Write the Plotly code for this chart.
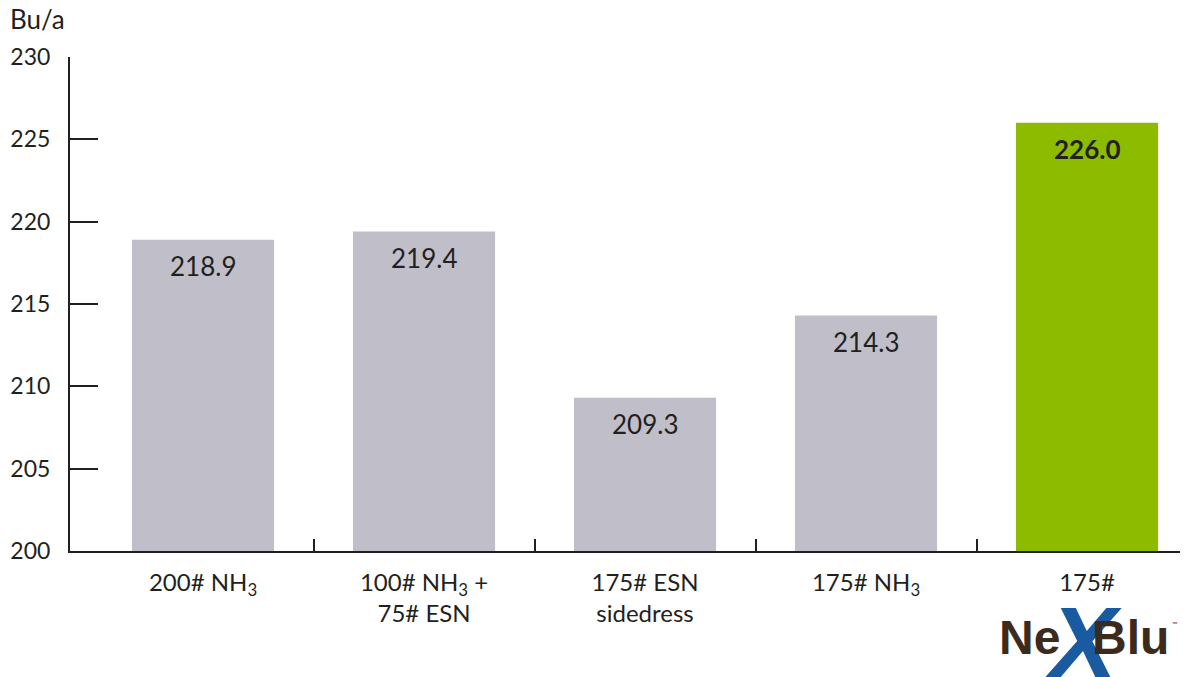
import plotly.graph_objects as go

categories = ["200# NH<sub>3</sub>", "100# NH<sub>3</sub> +<br>75# ESN", "175# ESN<br>sidedress",
              "175# NH<sub>3</sub>", "175#"]
values = [218.9, 219.4, 209.3, 214.3, 226.0]
labels = ["218.9", "219.4", "209.3", "214.3", "<b>226.0</b>"]
colors = ["#c0bfc9", "#c0bfc9", "#c0bfc9", "#c0bfc9", "#8cbb00"]
y_ticks = [200, 205, 210, 215, 220, 225, 230]
y_unit = "Bu/a"

FONT = "Lato, 'Open Sans', sans-serif"
LOGO_FONT = "'Liberation Sans', Arial, sans-serif"
TXT = "#231f20"
BROWN = "#3c2a1c"
x_pos = list(range(len(categories)))

fig = go.Figure()
fig.add_trace(go.Bar(
    x=x_pos, y=values, marker=dict(color=colors, line=dict(width=0)),
    width=0.643, hoverinfo="skip",
))

for xi, v, t in zip(x_pos, values, labels):
    fig.add_annotation(x=xi, y=v, xref="x", yref="y", text=t, showarrow=False,
                       yanchor="middle", yshift=-26,
                       font=dict(family=FONT, size=26, color=TXT))

fig.add_annotation(x=0, y=1, xref="paper", yref="paper", text=y_unit, showarrow=False,
                   xanchor="right", yanchor="bottom", xshift=-3, yshift=20,
                   font=dict(family=FONT, size=26, color=TXT))

# NexBlu logo rendered as text under the last category
logo_y = -0.176
fig.add_annotation(x=4.0, y=logo_y, xref="x", yref="paper", text="<b><i>X</i></b>",
                   showarrow=False, xanchor="center", yanchor="middle", xshift=-4, yshift=-4,
                   font=dict(family=LOGO_FONT, size=100, color="#1a5aa0"))
fig.add_annotation(x=4.0, y=logo_y, xref="x", yref="paper", text="<b>Ne</b>",
                   showarrow=False, xanchor="right", yanchor="middle", xshift=-25,
                   font=dict(family=LOGO_FONT, size=48, color=BROWN))
fig.add_annotation(x=4.0, y=logo_y, xref="x", yref="paper", text="<b>Blu</b>",
                   showarrow=False, xanchor="left", yanchor="middle", xshift=3,
                   font=dict(family=LOGO_FONT, size=48, color=BROWN))
fig.add_annotation(x=4.0, y=logo_y, xref="x", yref="paper", text="™",
                   showarrow=False, xanchor="left", yanchor="middle", xshift=83, yshift=14,
                   font=dict(family=FONT, size=7, color=BROWN))

fig.update_layout(
    width=1180, height=669,
    margin=dict(l=62, r=0, t=49, b=126, autoexpand=False),
    paper_bgcolor="white", plot_bgcolor="white",
    showlegend=False,
    font=dict(family=FONT, color=TXT),
)
fig.update_xaxes(
    range=[-0.602, 4.457], automargin=False,
    tickmode="array", tickvals=x_pos, ticktext=categories,
    ticks="", showgrid=False, zeroline=False,
    showline=True, linecolor="#231f20", linewidth=2,
    tickfont=dict(family=FONT, size=24, color=TXT),
    ticklabelstandoff=9,
    minor=dict(tickmode="array", tickvals=[0.5, 1.5, 2.5, 3.5], ticks="inside",
               ticklen=12, tickwidth=2, tickcolor="#231f20", showgrid=False),
)
fig.update_yaxes(
    range=[200, 230], automargin=False,
    tickmode="array", tickvals=y_ticks,
    ticks="inside", ticklen=28, tickwidth=2, tickcolor="#231f20",
    showgrid=False, zeroline=False,
    showline=True, linecolor="#231f20", linewidth=2,
    tickfont=dict(family=FONT, size=23, color=TXT),
    ticklabelstandoff=13,
)

fig.write_html("out.html")
